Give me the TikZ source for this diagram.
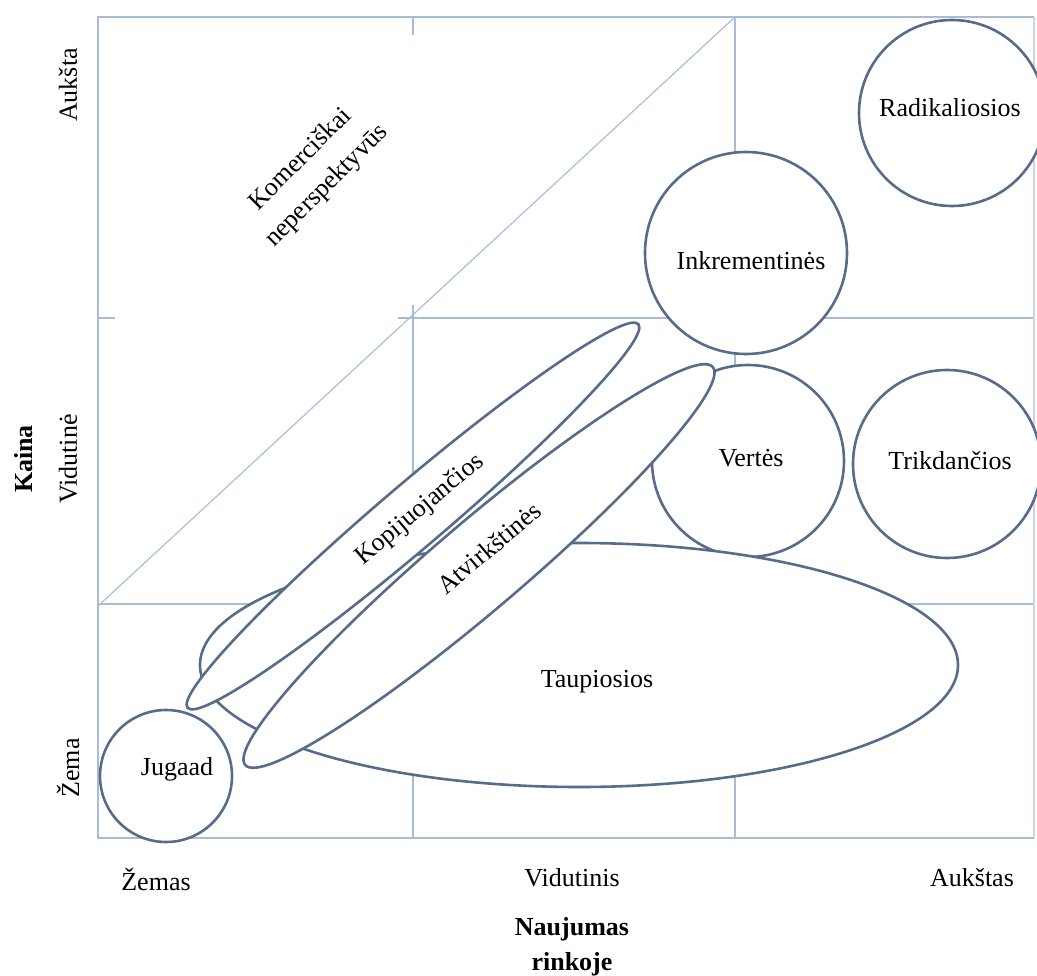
\documentclass[tikz,border=0pt]{standalone}
\usepackage{fontspec}
\setmainfont{Liberation Serif}
\usetikzlibrary{shapes.geometric}
\definecolor{gridc}{RGB}{168,188,214}
\definecolor{diagc}{RGB}{176,194,218}
\definecolor{shapec}{RGB}{88,108,138}
\begin{document}
\begin{tikzpicture}[x=1pt,y=-1pt,
  font=\fontsize{26}{31}\selectfont,
  box/.style={draw=gridc, line width=2.6pt},
  gridline/.style={draw=gridc, line width=1.6pt},
  diag/.style={draw=diagc, line width=1.3pt},
  blob/.style={draw=shapec, line width=2.6pt, fill=white, inner sep=0pt},
  roundblob/.style={blob, circle},
  ovalblob/.style={blob, ellipse},
  lbl/.style={inner sep=0pt, text=black}]
\useasboundingbox (0,0) rectangle (1037,976);
% frame corners
\coordinate (TL) at (98,17);
\coordinate (TR) at (1034,17);
\coordinate (BL) at (98,838);
\coordinate (BR) at (1034,838);
% grid points
\coordinate (v1t) at (413,17);
\coordinate (v1s) at (413,35);
\coordinate (v1m) at (413,305);
\coordinate (v1b) at (413,838);
\coordinate (v2t) at (735,17);
\coordinate (v2b) at (735,838);
\coordinate (h1l) at (98,318);
\coordinate (h1s) at (115,318);
\coordinate (h1m) at (398,318);
\coordinate (h1r) at (1034,318);
\coordinate (h2l) at (98,604);
\coordinate (h2r) at (1034,604);
\coordinate (d1) at (98,606);
% grid
\draw[gridline] (v1t) -- (v1s);
\draw[gridline] (v1m) -- (v1b);
\draw[gridline] (v2t) -- (v2b);
\draw[gridline] (h1l) -- (h1s);
\draw[gridline] (h1m) -- (h1r);
\draw[gridline] (h2l) -- (h2r);
\draw[diag] (d1) -- (v2t);
\draw[gridline, draw=gridc!60] (TR) -- (BR);
\draw[box] (BR) -- (BL) -- (TL) -- (TR);
% circles
\node[roundblob, minimum size=186pt] (rad) at (952,113) {};
\node[roundblob, minimum size=202pt] (ink) at (746,253) {};
\node[roundblob, minimum size=188pt] (tri) at (947,464) {};
\node[roundblob, minimum size=192pt] (ver) at (748,461) {};
% ellipses
\node[ovalblob, minimum width=758pt, minimum height=244pt] (tau) at (579,665) {};
\node[ovalblob, rotate=40.4, minimum width=614pt, minimum height=88pt] (atv) at (479,566) {};
\node[ovalblob, rotate=40.4, minimum width=592pt, minimum height=64pt] (kop) at (413,516) {};
\node[roundblob, minimum size=132pt] (jug) at (166,776) {};
% labels in shapes
\node[lbl] (trad) at (950,108) {Radikaliosios};
\node[lbl] (tink) at (751,261) {Inkrementinės};
\node[lbl] (tver) at (751,458) {Vertės};
\node[lbl] (ttri) at (950,461) {Trikdančios};
\node[lbl] (ttau) at (597,682) {Taupiosios};
\node[lbl] (tjug) at (177,769) {Jugaad};
\node[lbl, rotate=40] (tkop) at (420,510) {Kopijuojančios};
\node[lbl, rotate=40] (tatv) at (489,548) {Atvirkštinės};
\node[lbl, rotate=45, align=center, font=\fontsize{26}{37}\selectfont] (tkom) at (314,173) {Komerciškai\\neperspektyvūs};
% axis labels
\node[lbl, rotate=90] (yhi) at (68,85) {Aukšta};
\node[lbl, rotate=90] (ymid) at (68,459) {Vidutinė};
\node[lbl, rotate=90] (ylo) at (68,768) {Žema};
\node[lbl, rotate=90, font=\fontsize{26}{31}\selectfont\bfseries] (ytitle) at (24,459) {Kaina};
\node[lbl] (xlo) at (156,879) {Žemas};
\node[lbl] (xmid) at (572,878) {Vidutinis};
\node[lbl] (xhi) at (972,878) {Aukštas};
\node[lbl, align=center, font=\fontsize{26}{35}\selectfont\bfseries] (xtitle) at (572,947) {Naujumas\\rinkoje};
\end{tikzpicture}
\end{document}
